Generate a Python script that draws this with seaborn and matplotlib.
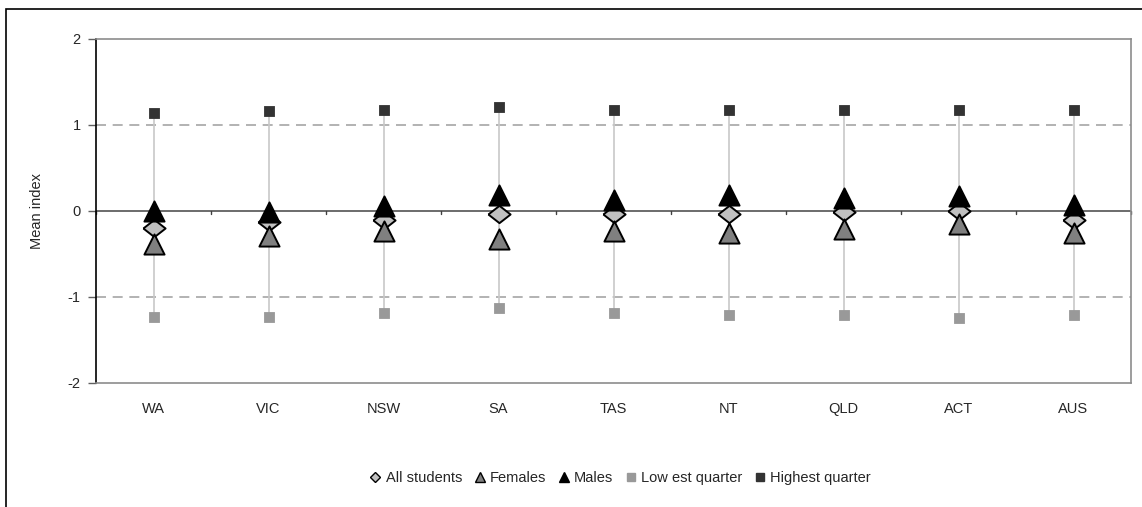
import matplotlib
matplotlib.use("Agg")
import matplotlib.pyplot as plt
import seaborn as sns
import pandas as pd
from matplotlib.patches import Rectangle
from matplotlib.lines import Line2D

categories = ["WA", "VIC", "NSW", "SA", "TAS", "NT", "QLD", "ACT", "AUS"]
all_students = [-0.20, -0.13, -0.11, -0.03, -0.04, -0.04, -0.01, 0.00, -0.10]
females = [-0.38, -0.29, -0.23, -0.33, -0.23, -0.26, -0.21, -0.15, -0.25]
males = [0.00, -0.01, 0.06, 0.19, 0.13, 0.19, 0.15, 0.17, 0.07]
lowest = [-1.23, -1.23, -1.19, -1.13, -1.19, -1.21, -1.21, -1.24, -1.21]
highest = [1.14, 1.16, 1.18, 1.21, 1.18, 1.18, 1.18, 1.18, 1.18]
y_ticks = [-2, -1, 0, 1, 2]

sns.set_theme(style="white")
plt.rcParams["font.family"] = ["Liberation Sans", "DejaVu Sans"]

W, H = 1142, 507
fig = plt.figure(figsize=(W / 100, H / 100), dpi=100)
ax = fig.add_axes([96 / W, 1 - 383 / H, (1131 - 96) / W, (383 - 39) / H])

df = pd.DataFrame({"cat": categories, "all": all_students, "fem": females,
                   "male": males, "low": lowest, "high": highest})

# high-low lines
ax.vlines(df["cat"], df["low"], df["high"], color="#c8c8c8", lw=1.2, zorder=1)

diamond = [(-1, 0), (0, 0.78), (1, 0), (0, -0.78), (-1, 0)]
specs = [
    ("low", "s", "#999999", "#999999", 0.6, 7.2),
    ("high", "s", "#333333", "#333333", 0.6, 7.2),
    ("all", diamond, "#c0c0c0", "black", 1.4, 16),
    ("fem", "^", "#808080", "black", 1.4, 14.5),
    ("male", "^", "black", "black", 1.4, 14.5),
]
for i, (col, mk, fc, ec, lw, ms) in enumerate(specs):
    sns.scatterplot(data=df, x="cat", y=col, marker=mk, s=ms ** 2, color=fc,
                    edgecolor=ec, linewidth=lw, ax=ax, zorder=3 + i, legend=False)

ax.set_xlim(-0.5, len(categories) - 0.5)
ax.set_ylim(-2, 2)
ax.set_yticks(y_ticks)
ax.set_yticklabels([str(t) for t in y_ticks], fontsize=10.5)
ax.tick_params(axis="y", direction="out", length=6, width=1, color="#606060", pad=5, left=True)
ax.tick_params(axis="x", length=0, pad=14, labelsize=10.5)
ax.set_xlabel("")
ax.set_ylabel("Mean index", fontsize=10.5, labelpad=17)

# gridlines
for yv in (-1, 1):
    ax.axhline(yv, color="#a6a6a6", lw=1.2, ls=(0, (6, 4)), zorder=0)
ax.axhline(0, color="#606060", lw=1.3, zorder=2)
# small category boundary ticks on zero line
for b in range(len(categories) + 1):
    ax.plot([b - 0.5, b - 0.5], [0, -0.04], color="#404040", lw=1, zorder=2, clip_on=False)

for s in ["top", "right", "bottom"]:
    ax.spines[s].set_color("#8c8c8c")
    ax.spines[s].set_linewidth(1.2)
ax.spines["left"].set_color("black")
ax.spines["left"].set_linewidth(1.2)

# legend
handles = [
    Line2D([], [], ls="", marker="D", ms=5.5, mfc="#c0c0c0", mec="black", mew=1),
    Line2D([], [], ls="", marker="^", ms=7, mfc="#808080", mec="black", mew=1),
    Line2D([], [], ls="", marker="^", ms=7, mfc="black", mec="black", mew=1),
    Line2D([], [], ls="", marker="s", ms=5.5, mfc="#999999", mec="#999999"),
    Line2D([], [], ls="", marker="s", ms=5.5, mfc="#333333", mec="#333333"),
]
labels = ["All students", "Females", "Males", "Low est quarter", "Highest quarter"]
fig.legend(handles, labels, loc="center", bbox_to_anchor=(620 / W, 1 - 478 / H),
           ncol=5, frameon=False, fontsize=10.5, handlelength=0.8,
           handletextpad=0.3, columnspacing=0.8)

# outer chart border
fig.patches.append(Rectangle((6 / W, -0.05), 1.1, (507 - 9) / H + 0.05,
                             transform=fig.transFigure, fill=False,
                             edgecolor="black", lw=1.2, zorder=0))

fig.savefig("out.png", dpi=100)
